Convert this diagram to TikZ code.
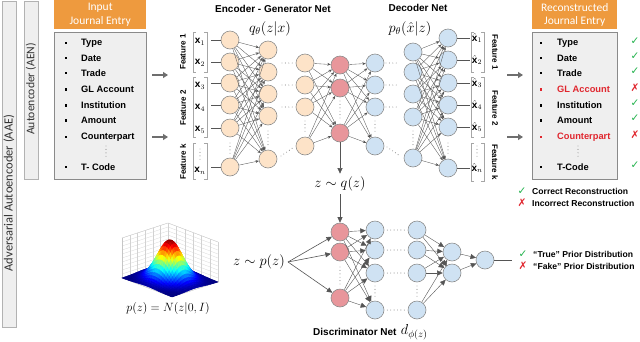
\documentclass[tikz,border=0pt]{standalone}
\usepackage{fontspec}
\setmainfont{Liberation Sans}
\newfontfamily\calfont{Carlito}
\newfontfamily\symfont{DejaVu Sans}
\usepackage{pgfplots}
\pgfplotsset{compat=1.18}
\usetikzlibrary{arrows.meta,calc}
\definecolor{peach}{HTML}{FDE3C8}
\definecolor{rednode}{HTML}{E8969B}
\definecolor{bluenode}{HTML}{CFE2F3}
\definecolor{nodeborder}{HTML}{8C8C8C}
\definecolor{boxfill}{HTML}{EFEFEF}
\definecolor{boxborder}{HTML}{8A8A8A}
\definecolor{hdr}{HTML}{EE9A3E}
\definecolor{linec}{HTML}{555555}
\definecolor{arrowc}{HTML}{6E6E6E}
\definecolor{okgreen}{HTML}{22B24C}
\definecolor{badred}{HTML}{E0262E}
\tikzset{
  neuron/.style={circle, draw=nodeborder, line width=0.6pt, minimum size=18pt, inner sep=0pt},
  pn/.style={neuron, fill=peach},
  rn/.style={neuron, fill=rednode},
  bn/.style={neuron, fill=bluenode},
  conn/.style={draw=linec, line width=0.35pt, -{Stealth[length=3.4pt,width=2.8pt]}},
  bigconn/.style={draw=linec, line width=0.6pt, -{Triangle[length=5.5pt,width=5pt]}},
  dotline/.style={draw=linec, line width=0.9pt, line cap=round, dash pattern=on 0pt off 3.4pt},
  flowarrow/.style={draw=arrowc, line width=1.8pt, -{Triangle[length=5pt,width=6pt]}},
  sidebox/.style={draw=gray!60, fill=boxfill, line width=0.6pt},
  listbox/.style={draw=boxborder, fill=boxfill, line width=1pt},
  header/.style={fill=hdr, text=white, font=\calfont\fontsize{11.5}{13.5}\selectfont, align=center, inner sep=0pt},
  item/.style={anchor=west, font=\bfseries\fontsize{9.3}{11}\selectfont, inner sep=0pt},
  bullet/.style={rectangle, fill=black, minimum size=2.6pt, inner sep=0pt},
  title/.style={font=\bfseries\fontsize{10}{12}\selectfont, inner sep=0pt},
  feat/.style={font=\bfseries\fontsize{8}{9}\selectfont, inner sep=0pt},
  mathlbl/.style={font=\fontsize{14.4}{16}\selectfont, inner sep=0pt},
  xlbl/.style={font=\fontsize{10}{12}\selectfont, inner sep=0pt},
  brk/.style={draw=gray!70, line width=0.6pt},
  xline/.style={draw=linec, line width=0.5pt},
  legend/.style={anchor=west, font=\bfseries\fontsize{8.6}{10}\selectfont, inner sep=0pt},
  okmark/.style={font=\symfont\fontsize{10.5}{11}\selectfont, text=okgreen, inner sep=0pt},
  badmark/.style={font=\symfont\fontsize{10.5}{11}\selectfont, text=badred, inner sep=0pt},
}
\begin{document}
\begin{tikzpicture}
\begin{scope}[x=1pt,y=-1pt]
\useasboundingbox (0,0) rectangle (640,341);
% side boxes
\draw[sidebox] (2,1) rectangle (16,327);
\node[rotate=90, font=\calfont\fontsize{12.5}{14}\selectfont, text=black!80] (aae) at (9,193) {Adversarial Autoencoder (AAE)};
\draw[sidebox] (24,1) rectangle (38,179);
\node[rotate=90, font=\calfont\fontsize{11.7}{14}\selectfont, text=black!80] (aen) at (31,89) {Autoencoder (AEN)};
% input entry
\node[header, minimum width=92pt, minimum height=29pt, anchor=north west] (inhdr) at (54,0) {Input\\Journal Entry};
\node[listbox, minimum width=92pt, minimum height=147pt, anchor=north west] (inbox) at (54,32) {};
\foreach \t/\y [count=\k] in {Type/43,Date/58,Trade/73,GL Account/89.5,Institution/105.5,Amount/120.5,Counterpart/137,T- Code/167}{
  \node[bullet] (inb\k) at (66,\y) {};
  \node[item] (init\k) at (81,\y) {\t};
}
\draw[dotline] (106,146) -- (106,158);
% output entry
\node[header, minimum width=85pt, minimum height=29pt, anchor=north west] (outhdr) at (532,0) {Reconstructed\\Journal Entry};
\node[listbox, minimum width=85pt, minimum height=147pt, anchor=north west] (outbox) at (532,32) {};
\foreach \t/\y/\c [count=\k] in {Type/43/black,Date/58/black,Trade/73/black,GL Account/89.5/badred,Institution/105.5/black,Amount/120.5/black,Counterpart/137/badred,T-Code/167/black}{
  \node[bullet, fill=\c] (outb\k) at (541,\y) {};
  \node[item, text=\c] (outit\k) at (557,\y) {\t};
}
\draw[dotline] (578,146) -- (578,158);
\foreach \y [count=\k] in {41.5,56.5,71.5,103.5,118.5,165.5}{
  \node[okmark] (ok\k) at (635,\y) {✓};
}
\node[badmark] (bad1) at (635,88) {✗};
\node[badmark] (bad2) at (635,135) {✗};
% legend reconstruction
\node[okmark] (lok) at (522,191) {✓};
\node[legend] (lokt) at (532,191) {Correct Reconstruction};
\node[badmark] (lbad) at (522,203) {✗};
\node[legend] (lbadt) at (532,203) {Incorrect Reconstruction};
% flow arrows
\coordinate (fa1) at (152,75); \coordinate (fa2) at (168,75);
\coordinate (fb1) at (152,137); \coordinate (fb2) at (168,137);
\coordinate (ga1) at (507,75); \coordinate (ga2) at (523,75);
\coordinate (gb1) at (507,137); \coordinate (gb2) at (523,137);
\draw[flowarrow] (fa1) -- (fa2);
\draw[flowarrow] (fb1) -- (fb2);
\draw[flowarrow] (ga1) -- (ga2);
\draw[flowarrow] (gb1) -- (gb2);
% titles
\node[title] (enct) at (273,9) {Encoder - Generator Net};
\node[mathlbl] (qlbl) at (270,28.5) {$q_\theta(z|x)$};
\node[title] (dect) at (418,8) {Decoder Net};
\node[mathlbl] (plbl) at (410,29) {$p_\theta(\hat{x}|z)$};
% feature labels left
\node[feat, rotate=90] (fl1) at (183,52) {Feature 1};
\node[feat, rotate=90] (fl2) at (183,108) {Feature 2};
\node[feat, rotate=90] (flk) at (183,162) {Feature k};
\draw[brk] (196,32) -- (193,32) -- (193,72) -- (196,72);
\draw[brk] (204,32) -- (207,32) -- (207,72) -- (204,72);
\draw[brk] (196,77) -- (193,77) -- (193,137) -- (196,137);
\draw[brk] (204,77) -- (207,77) -- (207,137) -- (204,137);
\draw[brk] (196,143) -- (193,143) -- (193,179) -- (196,179);
\draw[brk] (204,143) -- (207,143) -- (207,179) -- (204,179);
\foreach \y/\s [count=\k] in {42/1,63/2,86/3,108/4,130/5}{
  \node[xlbl] (xl\k) at (200,\y) {$\mathbf{x}_{\s}$};
}
\node[xlbl] (xl6) at (200,171) {$\mathbf{x}_{n}$};
\draw[dotline] (200,149) -- (200,161);
% feature labels right
\node[feat, rotate=-90] (fr1) at (495,52) {Feature 1};
\node[feat, rotate=-90] (fr2) at (495,108) {Feature 2};
\node[feat, rotate=-90] (frk) at (495,162) {Feature k};
\draw[brk] (474,32) -- (471,32) -- (471,72) -- (474,72);
\draw[brk] (481,32) -- (484,32) -- (484,72) -- (481,72);
\draw[brk] (474,77) -- (471,77) -- (471,137) -- (474,137);
\draw[brk] (481,77) -- (484,77) -- (484,137) -- (481,137);
\draw[brk] (474,143) -- (471,143) -- (471,181) -- (474,181);
\draw[brk] (481,143) -- (484,143) -- (484,181) -- (481,181);
\foreach \y/\s [count=\k] in {38/1,60/2,83/3,105/4,127/5}{
  \node[xlbl] (yl\k) at (477,\y) {$\hat{\mathbf{x}}_{\s}$};
}
\node[xlbl] (yl6) at (477,168) {$\hat{\mathbf{x}}_{n}$};
\draw[dotline] (477,146) -- (477,157);
% encoder layers
\foreach \y [count=\k] in {40,62,83,105,128,167} \node[pn] (e1-\k) at (230,\y) {};
\foreach \y [count=\k] in {50,72,94,116,159} \node[pn] (e2-\k) at (268,\y) {};
\foreach \y [count=\k] in {63,85,107,146} \node[pn] (e3-\k) at (305,\y) {};
\foreach \y [count=\k] in {65,88,133} \node[rn] (r-\k) at (340,\y) {};
\foreach \y [count=\k] in {63,85,107,146} \node[bn] (d1-\k) at (375,\y) {};
\foreach \y [count=\k] in {52,72,94,117,158} \node[bn] (d2-\k) at (413,\y) {};
\foreach \y [count=\k] in {38,60,83,105,127,168} \node[bn] (d3-\k) at (448,\y) {};
% input lines
\coordinate (bE) at (211,0);
\coordinate (bD) at (470,0);
\foreach \k in {1,...,6}{
  \draw[xline] (bE |- e1-\k) -- (e1-\k);
  \draw[xline] (d3-\k) -- (bD |- d3-\k);
}
% connections
\foreach \i in {1,...,6} \foreach \j in {1,...,5} \draw[conn] (e1-\i) -- (e2-\j);
\foreach \i in {1,...,4} \foreach \j in {1,2,3} \draw[conn] (e3-\i) -- (r-\j);
\foreach \i in {1,2,3} \foreach \j in {1,...,4} \draw[conn] (r-\i) -- (d1-\j);
\foreach \i in {1,...,5} \foreach \j in {1,...,6} \draw[conn] (d2-\i) -- (d3-\j);
% dotted skips
\foreach \y in {63,85,107}{
  \draw[dotline] (282,\y) -- (294,\y);
  \draw[dotline] (386,\y) -- (398,\y);
}
\draw[dotline] (281,156) -- (294,147);
\draw[dotline] (387,147) -- (400,156);
\draw[dotline] (230,143) -- (230,154);
\draw[dotline] (268,131) -- (268,146);
\draw[dotline] (305,121) -- (305,133);
\draw[dotline] (340,101) -- (340,121);
\draw[dotline] (375,121) -- (375,133);
\draw[dotline] (413,131) -- (413,146);
\draw[dotline] (448,143) -- (448,154);
% latent
\node[mathlbl] (zq) at (340,184) {$z\sim q(z)$};
\draw[bigconn, shorten >=3pt] (r-3) -- (zq);
% discriminator
\foreach \y [count=\k] in {232,252,298} \node[rn] (dr-\k) at (340,\y) {};
\foreach \y [count=\k] in {230,250,273,310} \node[bn] (db1-\k) at (375,\y) {};
\foreach \y [count=\k] in {230,250,273,310} \node[bn] (db2-\k) at (417,\y) {};
\foreach \y [count=\k] in {252,273} \node[bn] (db3-\k) at (452,\y) {};
\node[bn] (dout) at (485,260) {};
\draw[bigconn, shorten <=3pt] (zq) -- (dr-1);
\node[mathlbl] (zp) at (259,262) {$z\sim p(z)$};
\foreach \j in {1,2,3} \draw[bigconn] ([xshift=3pt]zp.east) -- (dr-\j);
\foreach \i in {1,2,3} \foreach \j in {1,...,4} \draw[bigconn, line width=0.4pt] (dr-\i) -- (db1-\j);
\foreach \j in {1,...,4} \draw[dotline] ([xshift=3pt]db1-\j.east) -- ([xshift=-3pt]db2-\j.west);
\foreach \i in {1,...,4} \foreach \j in {1,2} \draw[bigconn, line width=0.4pt] (db2-\i) -- (db3-\j);
\foreach \i in {1,2} \draw[bigconn, line width=0.4pt] (db3-\i) -- (dout);
\coordinate (dend) at (512,260);
\draw[draw=linec, line width=0.6pt] (dout) -- (dend);
\draw[dotline] (340,267) -- (340,285);
\draw[dotline] (375,286) -- (375,298);
\draw[dotline] (417,286) -- (417,298);
% legend prior
\node[okmark] (pok) at (523,254) {✓};
\node[legend] (pokt) at (533,254) {“True” Prior Distribution};
\node[badmark] (pbad) at (523,266) {✗};
\node[legend] (pbadt) at (533,266) {“Fake” Prior Distribution};
% labels
\node[font=\fontsize{12}{14}\selectfont] (pz) at (168,308) {$p(z)=N(z|0,I)$};
\node[title, anchor=west] (disc) at (313,332) {Discriminator Net};
\node[font=\fontsize{14.4}{16}\selectfont, anchor=west, inner sep=1pt] (dphi) at ([xshift=3pt]disc.east) {$d_{\phi(z)}$};
\end{scope}
\begin{axis}[at={(170pt,-280pt)}, anchor=origin,
  x={(8.33pt,-3.17pt)}, y={(7.67pt,2.5pt)}, z={(0pt,40pt)},
  xmin=-3,xmax=3,ymin=-3,ymax=3,zmin=0,zmax=1,
  grid=major, xtick={-3,-2,...,3}, ytick={-3,-2,...,3}, ztick={0,0.1,...,1},
  xticklabels={}, yticklabels={}, zticklabels={}, major tick length=0pt,
  grid style={gray!35, line width=0.25pt},
  axis line style={gray!45, line width=0.3pt},
  clip=false, colormap/jet]
\addplot3[surf, shader=flat, samples=31, domain=-3:3, y domain=-3:3] {exp(-(x^2+y^2)/2.6)};
\end{axis}
\end{tikzpicture}
\end{document}
